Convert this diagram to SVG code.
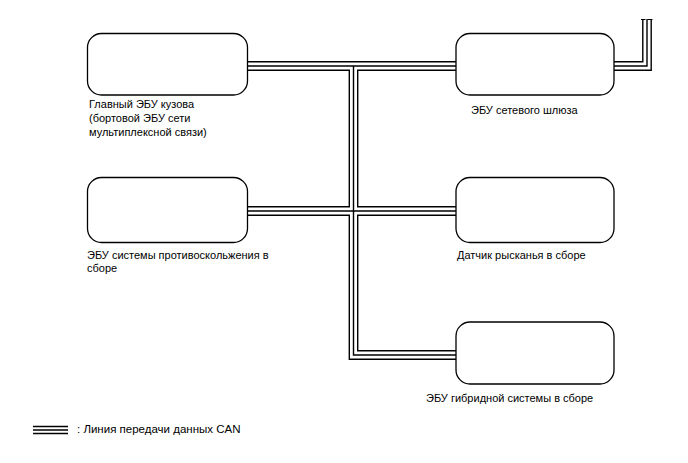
<svg xmlns="http://www.w3.org/2000/svg" width="688" height="463" viewBox="0 0 688 463">
<style>
.box{fill:#fff;stroke:#000;stroke-width:1.3}
.t{font-family:"Liberation Sans",Arial,sans-serif;font-size:11px;fill:#000}
.b1{fill:none;stroke:#000;stroke-width:9.8;stroke-linejoin:miter}
.b2{fill:none;stroke:#fff;stroke-width:7;stroke-linejoin:miter}
.b3{fill:none;stroke:#000;stroke-width:1.4;stroke-linejoin:miter}
</style>
<rect width="688" height="463" fill="#fff"/>
<g id="connectors">
<path class="b1" d="M247 66H456M353.5 66V355H456M247 211H456M614 66H647V19"/>
<path class="b2" d="M247 66H456M353.5 66V355H456M247 211H456M614 66H647V19"/>
<path class="b3" d="M247 66H456M353.5 66V355H456M247 211H456M614 66H647V19"/>
<path d="M641 19.5H645.5M647.5 19.5H652.5" stroke="#000" stroke-width="1.2"/>
</g>
<g id="n1"><rect class="box" x="87.5" y="33.5" width="160" height="61.5" rx="14"/>
<text class="t" x="89" y="108">Главный ЭБУ кузова</text>
<text class="t" x="89" y="122">(бортовой ЭБУ сети</text>
<text class="t" x="89" y="136">мультиплексной связи)</text></g>
<g id="n2"><rect class="box" x="87.5" y="177.5" width="160" height="65" rx="14"/>
<text class="t" x="87" y="259">ЭБУ системы противоскольжения в</text>
<text class="t" x="87" y="272">сборе</text></g>
<g id="n3"><rect class="box" x="456" y="33.5" width="158" height="61.5" rx="14"/>
<text class="t" x="471" y="114">ЭБУ сетевого шлюза</text></g>
<g id="n4"><rect class="box" x="456" y="177.5" width="158" height="65" rx="14"/>
<text class="t" x="457" y="259">Датчик рысканья в сборе</text></g>
<g id="n5"><rect class="box" x="456" y="322" width="158" height="62" rx="14"/>
<text class="t" x="426" y="402">ЭБУ гибридной системы в сборе</text></g>
<g id="legend">
<path d="M33 426.5H68M33 430H68M33 433.5H68" stroke="#000" stroke-width="1.4"/>
<text class="t" x="77" y="433" style="font-size:11.5px">: Линия передачи данных CAN</text>
</g>
</svg>
